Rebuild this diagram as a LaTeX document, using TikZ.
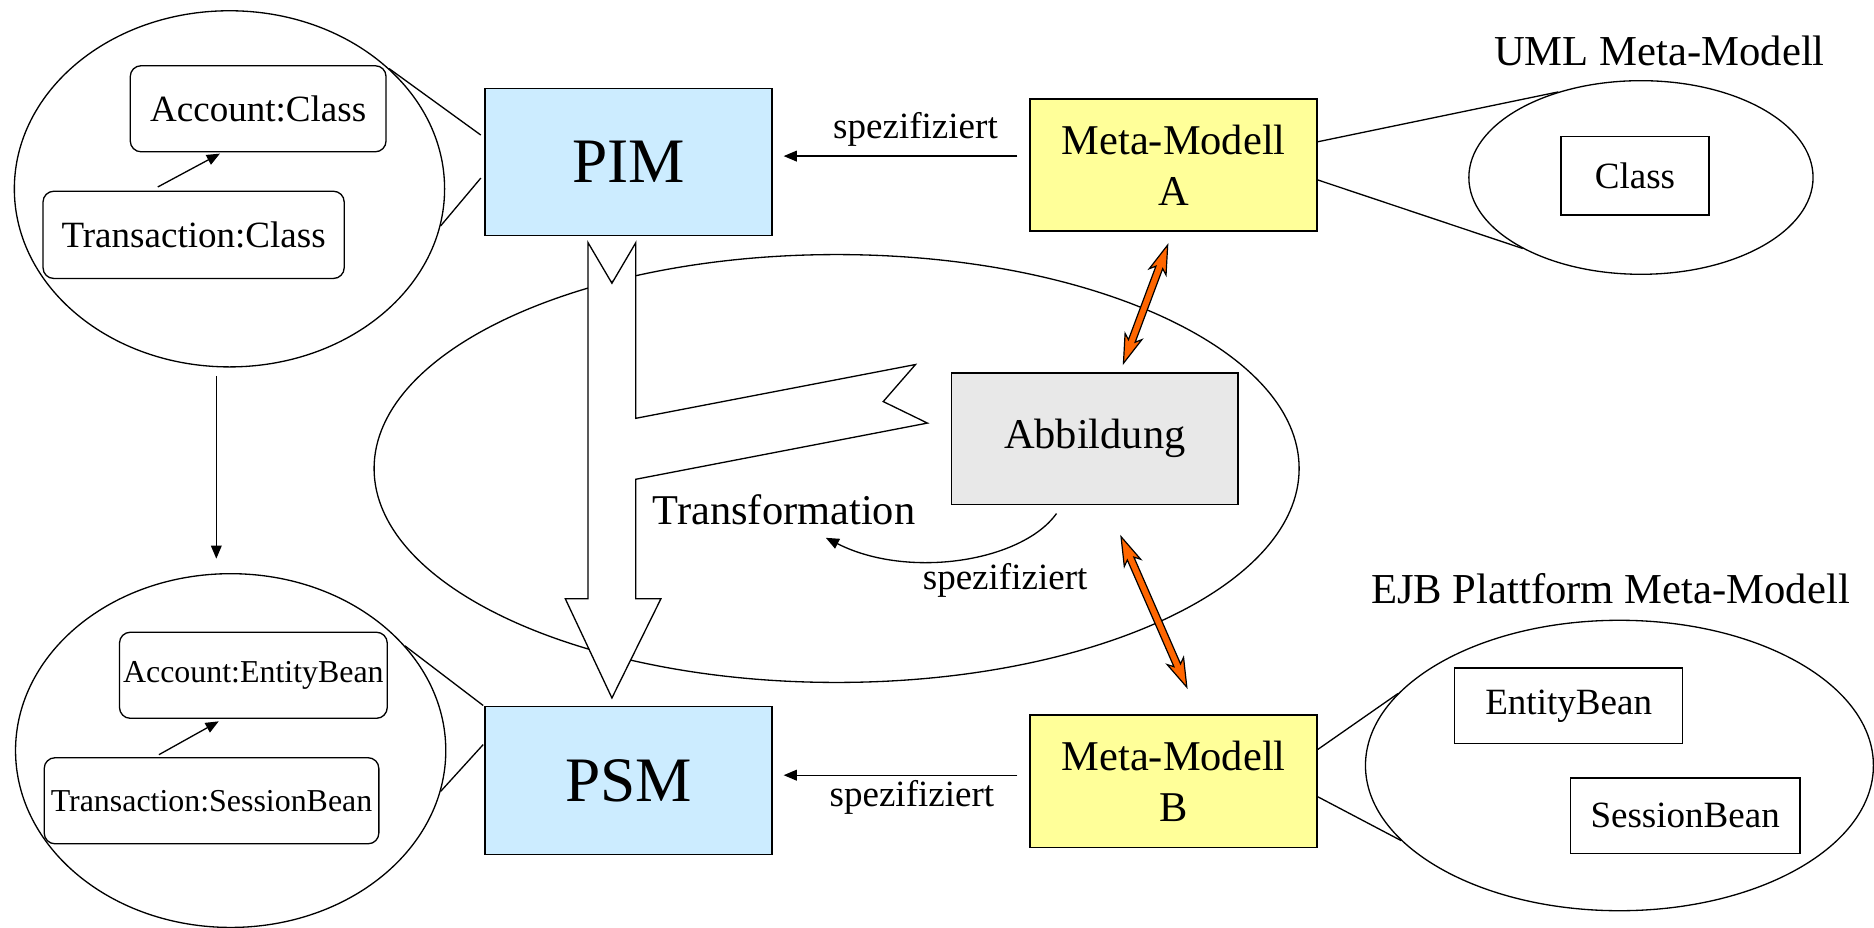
\documentclass[tikz,border=0pt]{standalone}
\usepackage{fontspec}
\setmainfont{Liberation Serif}
\usetikzlibrary{shapes.geometric,arrows.meta,calc}
\definecolor{pimblue}{HTML}{CCECFF}
\definecolor{metayellow}{HTML}{FFFF99}
\definecolor{abbgray}{HTML}{E8E8E8}
\definecolor{arroworange}{HTML}{FF6600}
\newcommand\orangedbl[3]{%
  \begin{scope}[shift={#1},rotate=#2]
    \filldraw[fill=arroworange,draw=black,line width=1pt,line join=miter]
      (-#3,0) -- (-#3+24,7.5) -- (-#3+20,3) -- (#3-20,3) -- (#3-24,7.5) -- (#3,0)
      -- (#3-24,-7.5) -- (#3-20,-3) -- (-#3+20,-3) -- (-#3+24,-7.5) -- cycle;
  \end{scope}}
\tikzset{
  line/.style={line width=1.1pt},
  mbox/.style={draw, line width=1.4pt, inner sep=0pt, align=center},
  sbox/.style={draw, line width=1.1pt, inner sep=0pt, font=\fontsize{31}{36}\selectfont},
  rbox/.style={draw, rounded corners=9pt, line width=1.1pt, inner sep=0pt},
  ell/.style={draw, ellipse, line width=1.1pt, inner sep=0pt},
  arr/.style={-{Triangle[length=11pt,width=9pt]}, line width=1.1pt},
  lbl/.style={inner sep=0pt, anchor=base},
}
\begin{document}
\begin{tikzpicture}[x=1pt,y=-1pt]
\useasboundingbox (0,0) rectangle (1568,776);

% central ellipse and transformation arrow
\node[ell, minimum width=774pt, minimum height=358pt] (centerE) at (700,392) {};
\filldraw[fill=white, draw=black, line width=1.1pt, line join=miter]
  (492,203) -- (512,237) -- (532,203) -- (532,350) -- (766,305) -- (739,336)
  -- (776,354) -- (532,401) -- (532,501) -- (553,501) -- (512,584) -- (473,501)
  -- (492,501) -- cycle;
\node[lbl, font=\fontsize{35.5}{40}\selectfont] (trans) at (656,439) {Transformation};

% left ellipses
\node[ell, minimum width=360pt, minimum height=298pt] (e1) at (192,158) {};
\node[ell, minimum width=360pt, minimum height=296pt] (e2) at (193,628) {};
\node[rbox, minimum width=214pt, minimum height=72pt, font=\fontsize{31}{36}\selectfont] (acc1) at (216,91) {Account:Class};
\node[rbox, minimum width=252pt, minimum height=73pt, font=\fontsize{31}{36}\selectfont] (tr1) at (162,196.5) {Transaction:Class};
\node[rbox, minimum width=224pt, minimum height=72pt, font=\fontsize{26.7}{32}\selectfont] (acc2) at (212,565) {Account:EntityBean};
\node[rbox, minimum width=280pt, minimum height=72pt, font=\fontsize{26.7}{32}\selectfont] (tr2) at (177,670) {Transaction:SessionBean};
\draw[arr] ($(tr1.north)+(-30,-3)$) -- ($(acc1.south)+(-32,1)$);
\draw[arr] ($(tr2.north)+(-44,-2)$) -- ($(acc2.south)+(-29,2)$);
\draw[arr] ($(e1.south)+(-11,7)$) -- ($(e2.north)+(-12,-12)$);

% PIM / PSM
\node[mbox, fill=pimblue, minimum width=240pt, minimum height=123pt, font=\fontsize{53}{60}\selectfont] (pim) at (526,135.5) {PIM};
\node[mbox, fill=pimblue, minimum width=240pt, minimum height=124pt, font=\fontsize{53}{60}\selectfont] (psm) at (526,653) {PSM};
\draw[line] (e1.37.5) -- ($(pim.west)+(-3,-22.5)$);
\draw[line] (e1.-10.3) -- ($(pim.west)+(-3,13.5)$);
\draw[line] (e2.31.7) -- ($(psm.north west)+(-1,0)$);
\draw[line] (e2.-11.6) -- ($(psm.west)+(-1,-30)$);

% Meta models
\node[mbox, fill=metayellow, minimum width=240pt, minimum height=110pt, font=\fontsize{35.5}{42.5}\selectfont] (metaA) at (982,138) {Meta-Modell\\A};
\node[mbox, fill=metayellow, minimum width=240pt, minimum height=111pt, font=\fontsize{35.5}{42.5}\selectfont] (metaB) at (982,653.5) {Meta-Modell\\B};
\draw[arr] ($(metaA.west)+(-10,-7.4)$) -- ($(pim.east)+(9,-4.9)$);
\draw[arr] ($(metaB.west)+(-10,-4.9)$) -- ($(psm.east)+(9,-4.4)$);
\node[lbl, font=\fontsize{31}{36}\selectfont] (spec1) at (766,116) {spezifiziert};
\node[lbl, font=\fontsize{31}{36}\selectfont] (spec2) at (763,675) {spezifiziert};

% Abbildung
\node[mbox, fill=abbgray, minimum width=240pt, minimum height=110pt, font=\fontsize{35.5}{42}\selectfont] (abb) at (916,367) {Abbildung};
\coordinate (tcurve) at (691,450);
\draw[arr] ($(abb.south)+(-32,7)$) .. controls (855,470) and (760,485) .. (tcurve);
\node[lbl, font=\fontsize{31}{36}\selectfont] (spec3) at (841,493) {spezifiziert};

% orange double arrows
\orangedbl{(958.5,254.5)}{69.5}{52.85}
\orangedbl{(965.5,512)}{-66.4}{68.75}

% UML meta model
\node[lbl, font=\fontsize{35.7}{40}\selectfont] (umlT) at (1388.5,54.4) {UML Meta-Modell};
\node[ell, minimum width=288pt, minimum height=162pt] (umlE) at (1373,148.5) {};
\node[sbox, minimum width=124pt, minimum height=66pt] (cls) at (1368,147) {Class};
\draw[line] ($(metaA.east)+(0,-19.4)$) -- (umlE.134.8);
\draw[line] ($(metaA.east)+(0,12.6)$) -- (umlE.211.2);

% EJB meta model
\node[lbl, font=\fontsize{35.7}{40}\selectfont] (ejbT) at (1347.5,505) {EJB Plattform Meta-Modell};
\node[ell, minimum width=425pt, minimum height=243pt] (ejbE) at (1355,640.5) {};
\node[sbox, minimum width=191pt, minimum height=63pt] (ent) at (1312.5,590.5) {EntityBean};
\node[sbox, minimum width=192pt, minimum height=63pt] (ses) at (1410,682.5) {SessionBean};
\draw[line] ($(metaB.east)+(0,-26.5)$) -- (ejbE.162.4);
\draw[line] ($(metaB.east)+(0,13.2)$) -- (ejbE.199.5);
\end{tikzpicture}
\end{document}
